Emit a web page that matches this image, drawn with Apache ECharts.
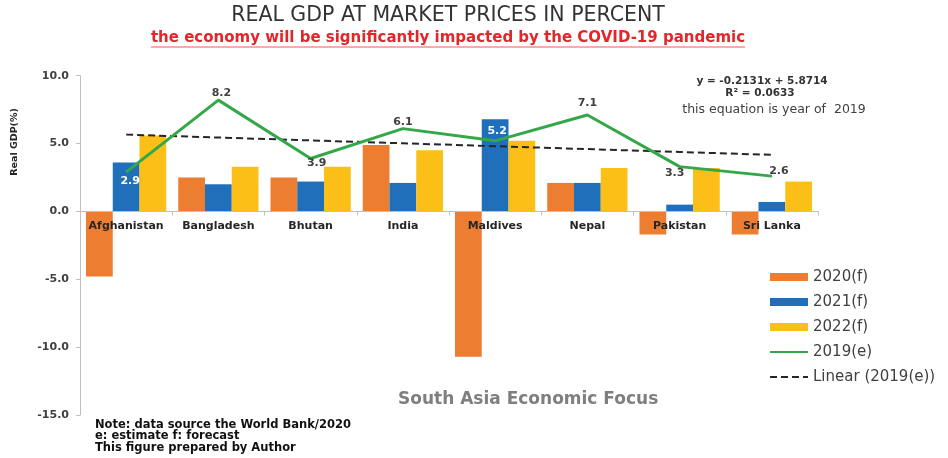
<!DOCTYPE html>
<html>
<head>
<meta charset="utf-8">
<script src="https://cdn.jsdelivr.net/npm/echarts@6/dist/echarts.min.js"></script>
<style>
  html, body { margin: 0; padding: 0; background: #ffffff; }
  #chart { width: 948px; height: 458px; }
</style>
</head>
<body>
<div id="chart"></div>
<script>
// Real GDP growth (%) for South Asian economies
const countries = ['Afghanistan', 'Bangladesh', 'Bhutan', 'India', 'Maldives', 'Nepal', 'Pakistan', 'Sri Lanka'];
const gdp2020f = [-4.8, 2.5, 2.5, 4.9, -10.7, 2.1, -1.7, -1.7];
const gdp2021f = [3.6, 2.0, 2.2, 2.1, 6.8, 2.1, 0.5, 0.7];
const gdp2022f = [5.6, 3.3, 3.3, 4.5, 5.2, 3.2, 3.2, 2.2];
const gdp2019e = [2.9, 8.2, 3.9, 6.1, 5.2, 7.1, 3.3, 2.6];
const seriesNames = ['2020(f)', '2021(f)', '2022(f)', '2019(e)', 'Linear (2019(e))'];
const yMin = -15, yMax = 10, yStep = 5;

// Least-squares trend of the 2019 estimates against category index 1..n
function linearFit(values) {
  const n = values.length;
  const xs = values.map((_, i) => i + 1);
  const mx = xs.reduce((a, b) => a + b, 0) / n;
  const my = values.reduce((a, b) => a + b, 0) / n;
  let sxy = 0, sxx = 0, syy = 0;
  for (let i = 0; i < n; i++) {
    sxy += (xs[i] - mx) * (values[i] - my);
    sxx += (xs[i] - mx) * (xs[i] - mx);
    syy += (values[i] - my) * (values[i] - my);
  }
  const slope = sxy / sxx;
  const intercept = my - slope * mx;
  const r2 = (sxy * sxy) / (sxx * syy);
  return { slope, intercept, r2, fitted: xs.map(x => intercept + slope * x) };
}
const trend = linearFit(gdp2019e);
const eqText = 'y = ' + trend.slope.toFixed(4) + 'x + ' + trend.intercept.toFixed(4);
const r2Text = 'R\u00B2 = ' + trend.r2.toFixed(4);

// Placement of the value labels on the 2019 line
const labelSpots = [
  { position: 'bottom', distance: 3, color: '#ffffff', offset: [4, 0] },
  { position: 'top', distance: 1, offset: [3, 0] },
  { position: 'bottom', distance: 0, offset: [6, -1] },
  { position: 'top', distance: 0 },
  { position: 'top', distance: 4, color: '#ffffff', offset: [2, 0] },
  { position: 'top', distance: 6 },
  { position: 'bottom', distance: 0, offset: [-5, 1] },
  { position: 'top', distance: 0, offset: [7, 1] }
];

const FONT = '"DejaVu Sans", Verdana, sans-serif';
const subtitle = 'the economy will be significantly impacted by the COVID-19 pandemic';
const subFont = 'bold 15px ' + FONT;
function textWidth(text, font) {
  const ctx = document.createElement('canvas').getContext('2d');
  ctx.font = font;
  return ctx.measureText(text).width;
}
const subW = textWidth(subtitle, subFont);

// Plot area; the category axis is lifted to the zero line of the value axis
const H = 458, gridTop = 75.7, gridBottom = 43;
const plotH = H - gridTop - gridBottom;
const zeroLift = (0 - yMin) / (yMax - yMin) * plotH;

const chart = echarts.init(document.getElementById('chart'), null, { renderer: 'canvas' });

const barCommon = { type: 'bar', barGap: '0%', barCategoryGap: '13%', z: 2 };
const hiddenMarker = { color: 'rgba(0,0,0,0)', borderColor: 'rgba(0,0,0,0)', borderWidth: 0 };

chart.setOption({
  backgroundColor: '#ffffff',
  animation: false,
  grid: { left: 80, right: 130, top: gridTop, bottom: gridBottom, containLabel: false },
  legend: {
    data: [
      { name: seriesNames[0], icon: 'rect' },
      { name: seriesNames[1], icon: 'rect' },
      { name: seriesNames[2], icon: 'rect' },
      { name: seriesNames[3], itemStyle: hiddenMarker },
      { name: seriesNames[4], itemStyle: hiddenMarker }
    ],
    orient: 'vertical',
    left: 769,
    top: 269,
    padding: 0,
    itemWidth: 38,
    itemHeight: 8,
    itemGap: 9,
    textStyle: { fontFamily: FONT, fontSize: 15, color: '#404040', lineHeight: 16 }
  },
  xAxis: {
    type: 'category',
    data: countries,
    z: 10,
    offset: -zeroLift,
    axisLine: { onZero: false, lineStyle: { color: '#bfbfbf', width: 1 } },
    axisTick: { show: true, length: 4, lineStyle: { color: '#bfbfbf' } },
    axisLabel: { margin: 9, fontFamily: FONT, fontWeight: 'bold', fontSize: 11, color: '#262626', interval: 0 }
  },
  yAxis: {
    type: 'value',
    min: yMin,
    max: yMax,
    interval: yStep,
    splitLine: { show: false },
    axisLine: { show: true, lineStyle: { color: '#bfbfbf', width: 1 } },
    axisTick: { show: true, length: 4, lineStyle: { color: '#bfbfbf' } },
    axisLabel: {
      margin: 11,
      fontFamily: FONT, fontWeight: 'bold', fontSize: 11, color: '#404040',
      formatter: v => v.toFixed(1)
    }
  },
  series: [
    Object.assign({ name: seriesNames[0], data: gdp2020f, itemStyle: { color: '#ed7d31' } }, barCommon),
    Object.assign({ name: seriesNames[1], data: gdp2021f, itemStyle: { color: '#1f6fba' } }, barCommon),
    Object.assign({ name: seriesNames[2], data: gdp2022f, itemStyle: { color: '#fcbf17' } }, barCommon),
    {
      name: seriesNames[3],
      type: 'line',
      z: 5,
      symbol: 'circle',
      symbolSize: 1,
      showSymbol: true,
      lineStyle: { color: '#34a849', width: 3 },
      itemStyle: { color: '#34a849' },
      data: gdp2019e.map((v, i) => ({
        value: v,
        label: Object.assign({
          show: true,
          fontFamily: FONT, fontWeight: 'bold', fontSize: 11, color: '#404040',
          formatter: p => Number(p.value).toFixed(1)
        }, labelSpots[i])
      }))
    },
    {
      name: seriesNames[4],
      type: 'line',
      z: 4,
      symbol: 'none',
      lineStyle: { color: '#262626', width: 2, type: [7, 4] },
      itemStyle: { color: '#262626' },
      data: trend.fitted
    }
  ],
  graphic: [
    {
      type: 'text',
      style: {
        text: 'REAL GDP AT MARKET PRICES IN PERCENT',
        x: 448, y: 16, align: 'center', verticalAlign: 'middle',
        fontFamily: FONT, fontSize: 20.5, fill: '#333333'
      }
    },
    {
      type: 'text',
      style: {
        text: subtitle,
        x: 448, y: 38, align: 'center', verticalAlign: 'middle',
        fontFamily: FONT, fontSize: 15, fontWeight: 'bold', fill: '#e4262b'
      }
    },
    {
      type: 'line',
      shape: { x1: 448 - subW / 2, y1: 47, x2: 448 + subW / 2, y2: 47 },
      style: { stroke: '#ea5a5e', lineWidth: 1 }
    },
    {
      type: 'text',
      style: {
        text: eqText, x: 762, y: 81, align: 'center', verticalAlign: 'middle',
        fontFamily: FONT, fontSize: 10.5, fontWeight: 'bold', fill: '#333333'
      }
    },
    {
      type: 'text',
      style: {
        text: r2Text, x: 760, y: 93, align: 'center', verticalAlign: 'middle',
        fontFamily: FONT, fontSize: 10.5, fontWeight: 'bold', fill: '#333333'
      }
    },
    {
      type: 'text',
      style: {
        text: 'this equation is year of  2019', x: 774, y: 110, align: 'center', verticalAlign: 'middle',
        fontFamily: FONT, fontSize: 12.5, fill: '#404040'
      }
    },
    {
      type: 'text',
      rotation: Math.PI / 2,
      x: 15, y: 142,
      style: {
        text: 'Real GDP(%)', x: 0, y: 0, align: 'center', verticalAlign: 'middle',
        fontFamily: FONT, fontSize: 9.5, fontWeight: 'bold', fill: '#262626'
      }
    },
    {
      type: 'text',
      style: {
        text: 'South Asia Economic Focus', x: 398, y: 400, align: 'left', verticalAlign: 'middle',
        fontFamily: FONT, fontSize: 17, fontWeight: 'bold', fill: '#7f7f7f'
      }
    },
    {
      type: 'text',
      style: {
        text: 'Note: data source the World Bank/2020\ne: estimate f: forecast\nThis figure prepared by Author',
        x: 95, y: 419, align: 'left', verticalAlign: 'top', lineHeight: 11.5,
        fontFamily: FONT, fontSize: 11.5, fontWeight: 'bold', fill: '#111111'
      }
    }
  ]
});
</script>
</body>
</html>
